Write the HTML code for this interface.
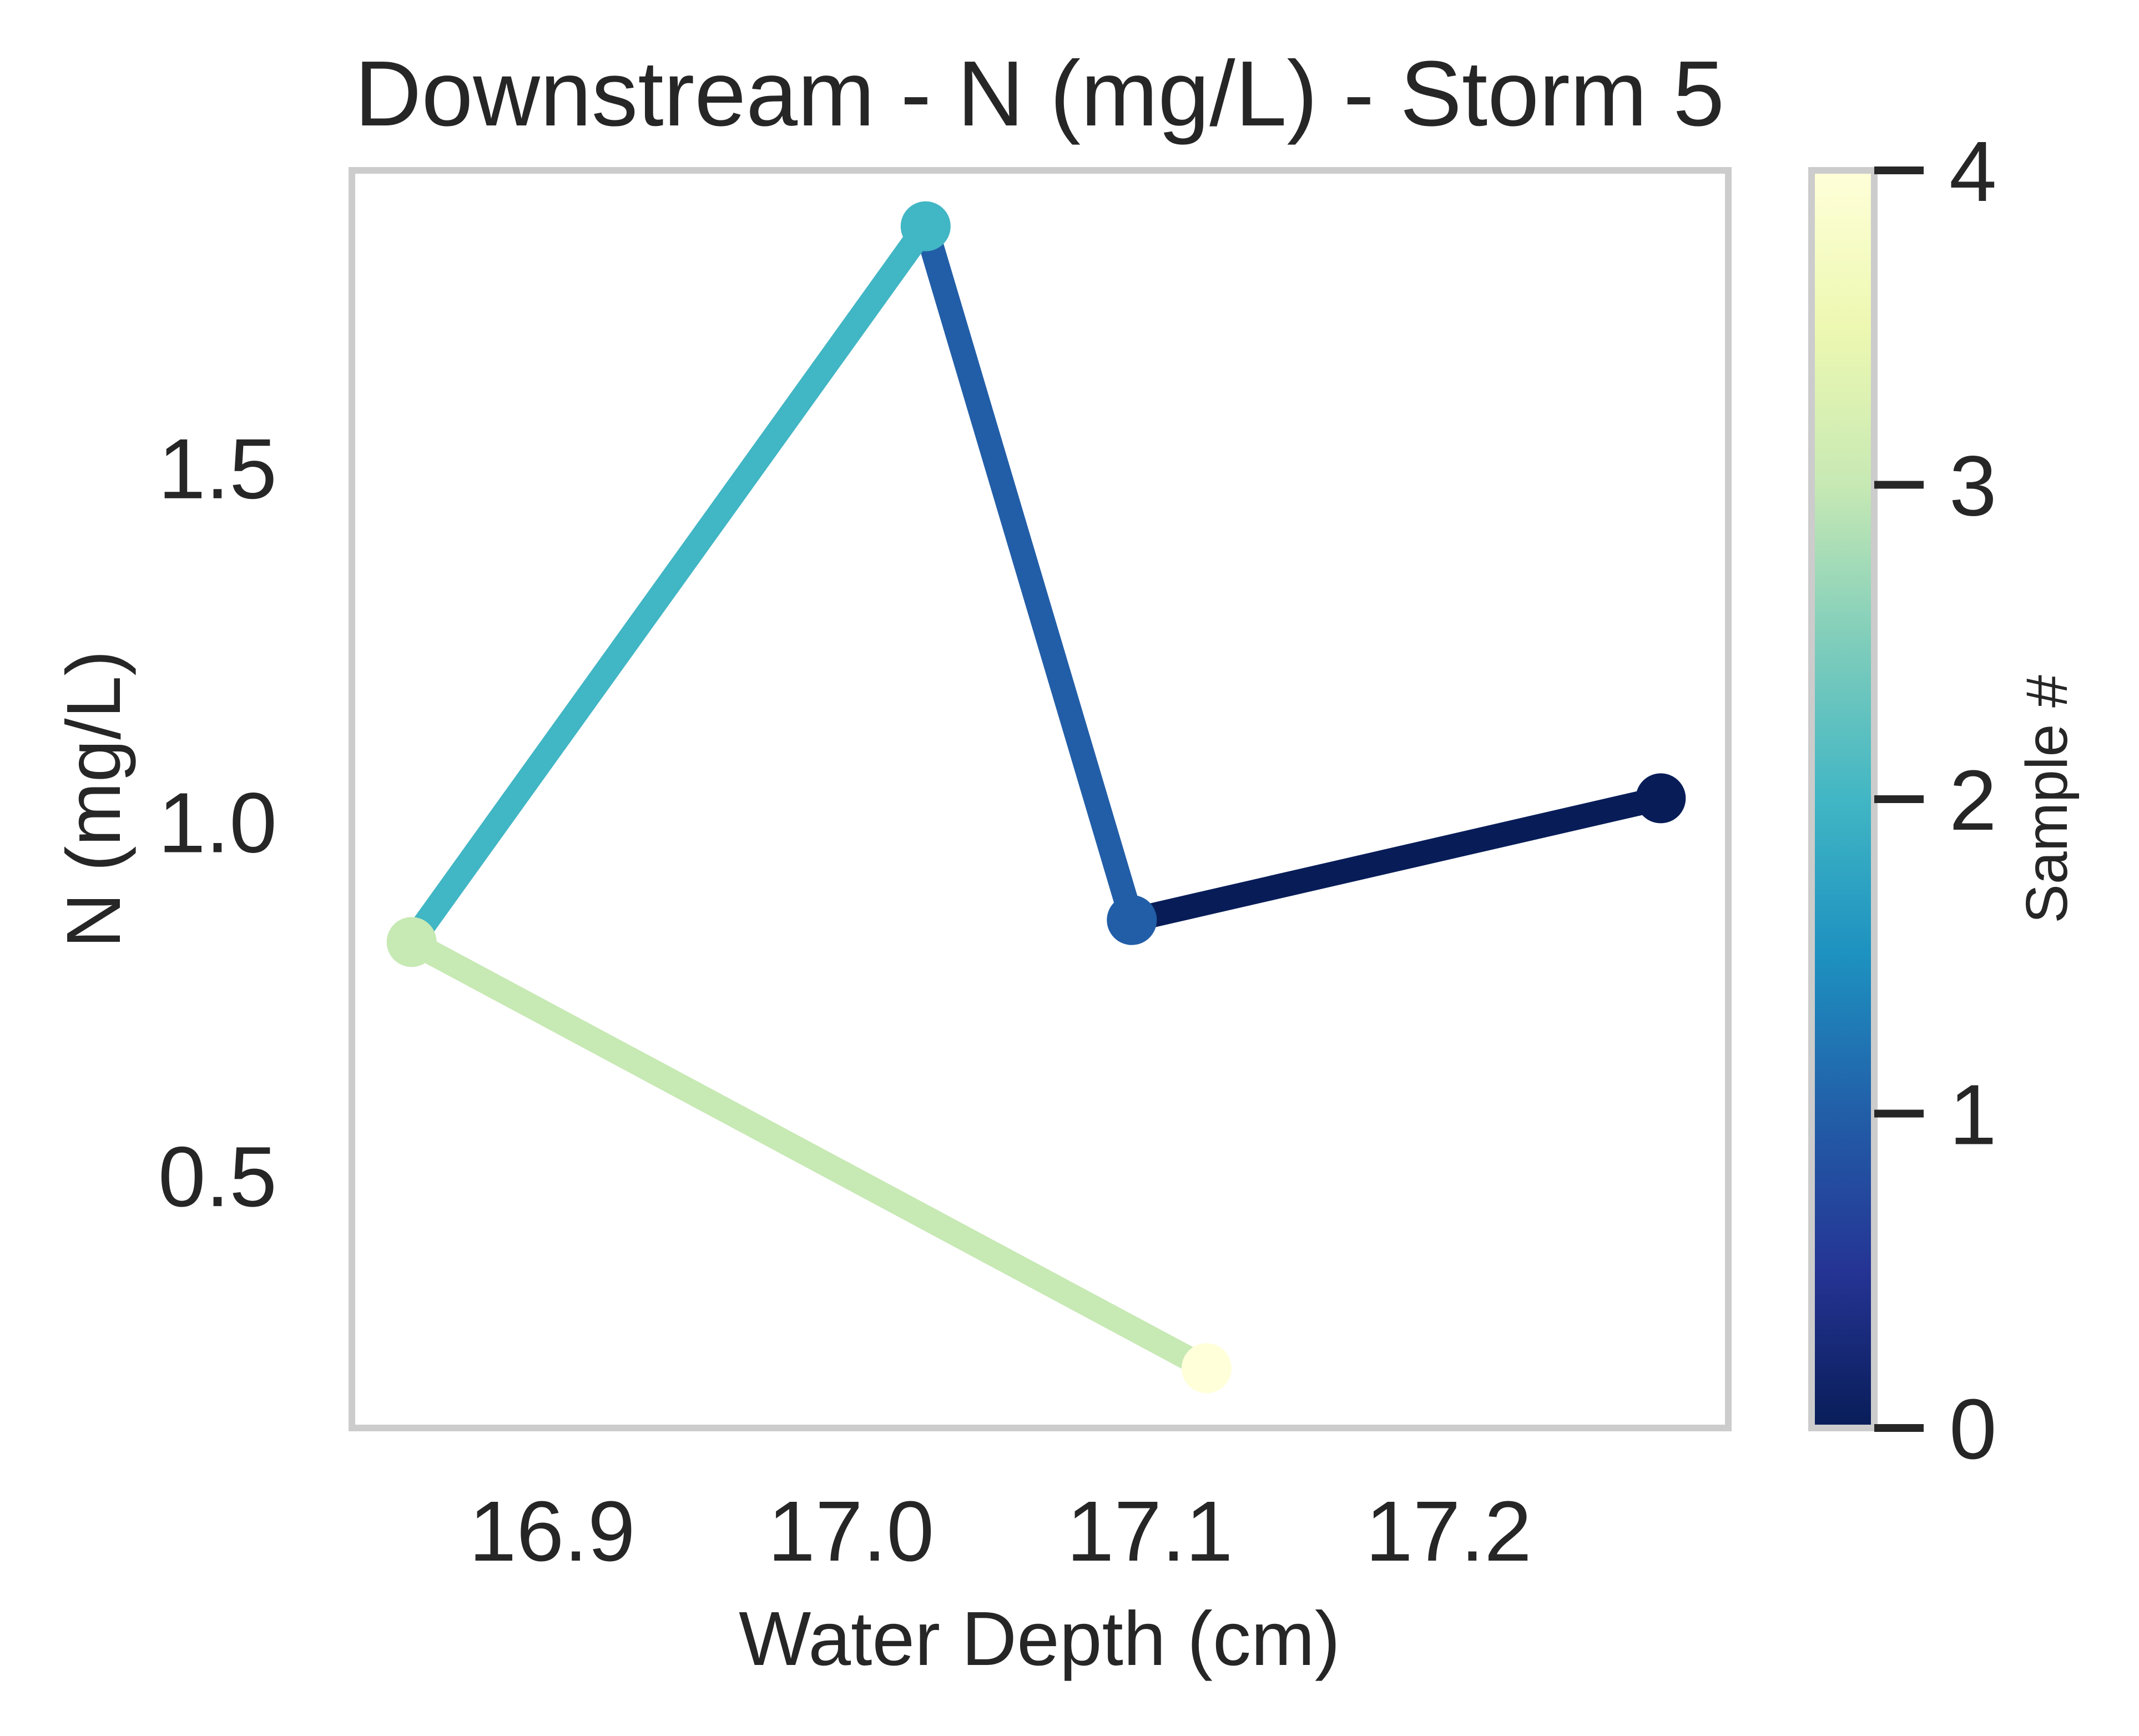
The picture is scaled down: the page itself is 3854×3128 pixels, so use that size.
<!DOCTYPE html>
<html><head><meta charset="utf-8"><style>
html,body{margin:0;padding:0;background:#fff}
svg{display:block}
text{font-family:"Liberation Sans",Arial,sans-serif;fill:#262626}
</style></head><body>
<svg id="chart" width="3854" height="3128" viewBox="0 0 3854 3128" xmlns="http://www.w3.org/2000/svg">
<defs>
<linearGradient id="cmap" x1="0" y1="1" x2="0" y2="0">
<stop offset="0" stop-color="#081d58"/><stop offset="0.125" stop-color="#253494"/>
<stop offset="0.25" stop-color="#225ea8"/><stop offset="0.375" stop-color="#1d91c0"/>
<stop offset="0.5" stop-color="#41b6c4"/><stop offset="0.625" stop-color="#7fcdbb"/>
<stop offset="0.75" stop-color="#c7e9b4"/><stop offset="0.875" stop-color="#edf8b1"/>
<stop offset="1" stop-color="#ffffd9"/></linearGradient>
</defs>
<text x="1873" y="226" font-size="167" text-anchor="middle">Downstream - N (mg/L) - Storm 5</text>
<g id="plot"></g>
<rect x="634" y="307" width="2480" height="2266" fill="none" stroke="#cccccc" stroke-width="12"/>
<g id="xticks"></g>
<g id="yticks"></g>
<text x="1873" y="3000" font-size="138" text-anchor="middle">Water Depth (cm)</text>
<text x="0" y="0" font-size="138" text-anchor="middle" transform="translate(216,1440) rotate(-90)">N (mg/L)</text>
<rect x="3264" y="307" width="113" height="2266" fill="url(#cmap)" stroke="#cccccc" stroke-width="12"/>
<g id="cbticks"></g>
<text x="0" y="0" font-size="106" text-anchor="middle" transform="translate(3724,1440) rotate(-90)">Sample #</text>
</svg>
<script>
const depth = [17.271, 17.094, 17.025, 16.853, 17.119];
const nitrogen = [1.033, 0.861, 1.841, 0.830, 0.228];
const sampleColors = ["#081d58", "#225ea8", "#41b6c4", "#c7e9b4", "#ffffd9"];
const xTicks = [16.9, 17.0, 17.1, 17.2];
const xTickLabels = ["16.9", "17.0", "17.1", "17.2"];
const yTicks = [0.5, 1.0, 1.5];
const yTickLabels = ["0.5", "1.0", "1.5"];
const cbTicks = [0, 1, 2, 3, 4];

const NS = "http://www.w3.org/2000/svg";
const X0 = 634, X1 = 3114, Y0 = 307, Y1 = 2573;
const xMin = 16.833, xMax = 17.2936, yMin = 0.1435, yMax = 1.920;
const xs = v => X0 + (v - xMin) / (xMax - xMin) * (X1 - X0);
const ys = v => Y1 - (v - yMin) / (yMax - yMin) * (Y1 - Y0);
const cbs = v => Y1 - v / 4 * (Y1 - Y0);
function mk(tag, parent, attrs) { const e = document.createElementNS(NS, tag); for (const k in attrs) e.setAttribute(k, attrs[k]); parent.appendChild(e); return e; }

const plot = document.getElementById('plot');
for (let i = 0; i < depth.length - 1; i++) {
  const l = mk('line', plot, {x1: xs(depth[i]), y1: ys(nitrogen[i]), x2: xs(depth[i+1]), y2: ys(nitrogen[i+1]), stroke: sampleColors[i], 'stroke-width': 44});
  
  
}
for (let i = 0; i < depth.length; i++) {
  const c = mk('circle', plot, {cx: xs(depth[i]), cy: ys(nitrogen[i]), r: 45, fill: sampleColors[i]});
  
  
}
const xg = document.getElementById('xticks');
xTicks.forEach((v, i) => {
  const t = mk('text', xg, {x: xs(v), y: 2812, 'font-size': 154, 'text-anchor': 'middle'});
  t.textContent = xTickLabels[i];
  
  
});
const yg = document.getElementById('yticks');
yTicks.forEach((v, i) => {
  const t = mk('text', yg, {x: 499, y: ys(v) + 55, 'font-size': 154, 'text-anchor': 'end'});
  t.textContent = yTickLabels[i];
  
  
});
const cg = document.getElementById('cbticks');
cbTicks.forEach(v => {
  const l = mk('line', cg, {x1: 3377, x2: 3466, y1: cbs(v), y2: cbs(v), stroke: '#262626', 'stroke-width': 14});
  
  
  const t = mk('text', cg, {x: 3512, y: cbs(v) + 55, 'font-size': 154});
  t.textContent = String(v);
  
  
});
</script>
</body></html>
